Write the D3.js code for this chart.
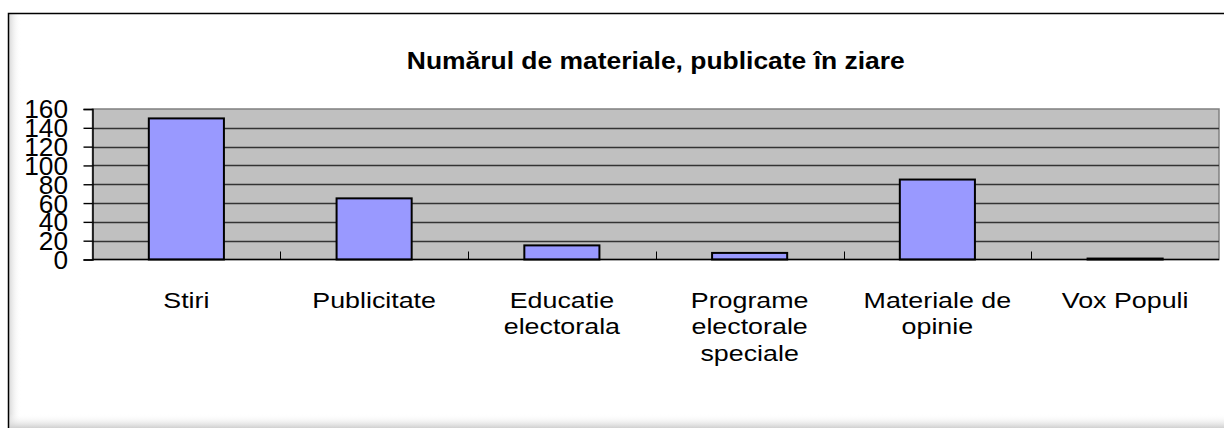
<!DOCTYPE html>
<html><head><meta charset="utf-8">
<script src="https://cdn.jsdelivr.net/npm/d3@7"></script>
<style>body{margin:0;background:#fff}svg{display:block}text{font-family:"Liberation Sans",Arial,sans-serif}</style>
</head><body>
<svg id="c" width="1224" height="428"></svg>
<script>
const title = "Numărul de materiale, publicate în ziare";
const categories = ["Stiri","Publicitate","Educatie electorala","Programe electorale speciale","Materiale de opinie","Vox Populi"];
const categoryLines = [["Stiri"],["Publicitate"],["Educatie","electorala"],["Programe","electorale","speciale"],["Materiale de","opinie"],["Vox Populi"]];
const values = [150, 65, 15, 7, 85, 1];
const yTicks = [0,20,40,60,80,100,120,140,160];

const svg = d3.select("#c");
const W = 1224, H = 428;
const m = {left: 92.5, right: 1219, top: 109, bottom: 259.5};
const SX = 1.22;

// shadow gradients
const defs = svg.append("defs");
const gl = defs.append("linearGradient").attr("id","gl").attr("x1",0).attr("x2",1);
gl.append("stop").attr("offset",0).attr("stop-color","#d8d8d8");
gl.append("stop").attr("offset",1).attr("stop-color","#fff").attr("stop-opacity",0);
const gb = defs.append("linearGradient").attr("id","gb").attr("x1",0).attr("x2",0).attr("y1",0).attr("y2",1);
gb.append("stop").attr("offset",0).attr("stop-color","#fff").attr("stop-opacity",0);
gb.append("stop").attr("offset",1).attr("stop-color","#d0d0d0");

// outer chart border
svg.append("rect").attr("x",9).attr("y",14).attr("width",12).attr("height",H-14).attr("fill","url(#gl)");
svg.append("rect").attr("x",9).attr("y",H-14).attr("width",W-9).attr("height",14).attr("fill","url(#gb)");
svg.append("path").attr("d",`M8.5,${H} V13.5 H${W}`).attr("fill","none").attr("stroke","#000").attr("stroke-width",1.5);

const x = d3.scaleBand().domain(categories).range([m.left, m.right]).paddingInner(0.6).paddingOuter(0.3);
const xb = d3.scaleBand().domain(categories).range([m.left, m.right]);
const y = d3.scaleLinear().domain([0,160]).range([m.bottom, m.top]);

// plot area
svg.append("rect").attr("x",m.left).attr("y",m.top).attr("width",m.right-m.left).attr("height",m.bottom-m.top)
  .attr("fill","#c0c0c0").attr("stroke","#808080").attr("stroke-width",1.5);

// gridlines
svg.append("g").selectAll("line").data(yTicks.filter(d=>d>0 && d<160)).join("line")
  .attr("x1",m.left).attr("x2",m.right).attr("y1",d=>Math.round(y(d))+0.5).attr("y2",d=>Math.round(y(d))+0.5)
  .attr("stroke","#333").attr("stroke-width",1.4);

// y axis
const ya = svg.append("g").attr("transform",`translate(${m.left},0)`)
  .call(d3.axisLeft(y).tickValues(yTicks).tickSize(9).tickPadding(0));
ya.select(".domain").attr("stroke","#000").attr("stroke-width",1.5);
ya.selectAll(".tick line").attr("stroke","#000").attr("stroke-width",1.4);
ya.selectAll(".tick text").remove();
svg.append("g").selectAll("text").data(yTicks).join("text")
  .attr("transform",d=>`translate(68,${y(d)}) scale(1.05,1.05)`)
  .attr("text-anchor","end").attr("dy","0.36em")
  .attr("font-size",25).attr("fill","#000").text(d=>d);

// bars
svg.append("g").selectAll("rect").data(values).join("rect")
  .attr("x",(d,i)=>x(categories[i])).attr("width",x.bandwidth())
  .attr("y",d=>y(d)).attr("height",d=>y(0)-y(d))
  .attr("fill","#9999ff").attr("stroke","#000").attr("stroke-width",2);

// x axis
svg.append("line").attr("x1",m.left).attr("x2",m.right).attr("y1",m.bottom).attr("y2",m.bottom).attr("stroke","#000").attr("stroke-width",1.5);
svg.append("g").selectAll("line").data(categories.slice(1)).join("line")
  .attr("x1",d=>Math.round(xb(d))+0.5).attr("x2",d=>Math.round(xb(d))+0.5)
  .attr("y1",m.bottom).attr("y2",m.bottom-8).attr("stroke","#000").attr("stroke-width",1);

// category labels
const lab = svg.append("g").selectAll("g").data(categories).join("g")
  .attr("transform",d=>`translate(${xb(d)+xb.bandwidth()/2},308) scale(${SX},1)`);
lab.each(function(d,i){
  d3.select(this).selectAll("text").data(categoryLines[i]).join("text")
    .attr("y",(t,j)=>j*26.5).attr("text-anchor","middle").attr("font-size",22).attr("fill","#000").text(t=>t);
});

// title
svg.append("text").attr("transform",`translate(${(m.left+m.right)/2},69) scale(1.15,1)`)
  .attr("text-anchor","middle").attr("font-size",23).attr("font-weight","bold").attr("fill","#000").text(title);
</script>
</body></html>
